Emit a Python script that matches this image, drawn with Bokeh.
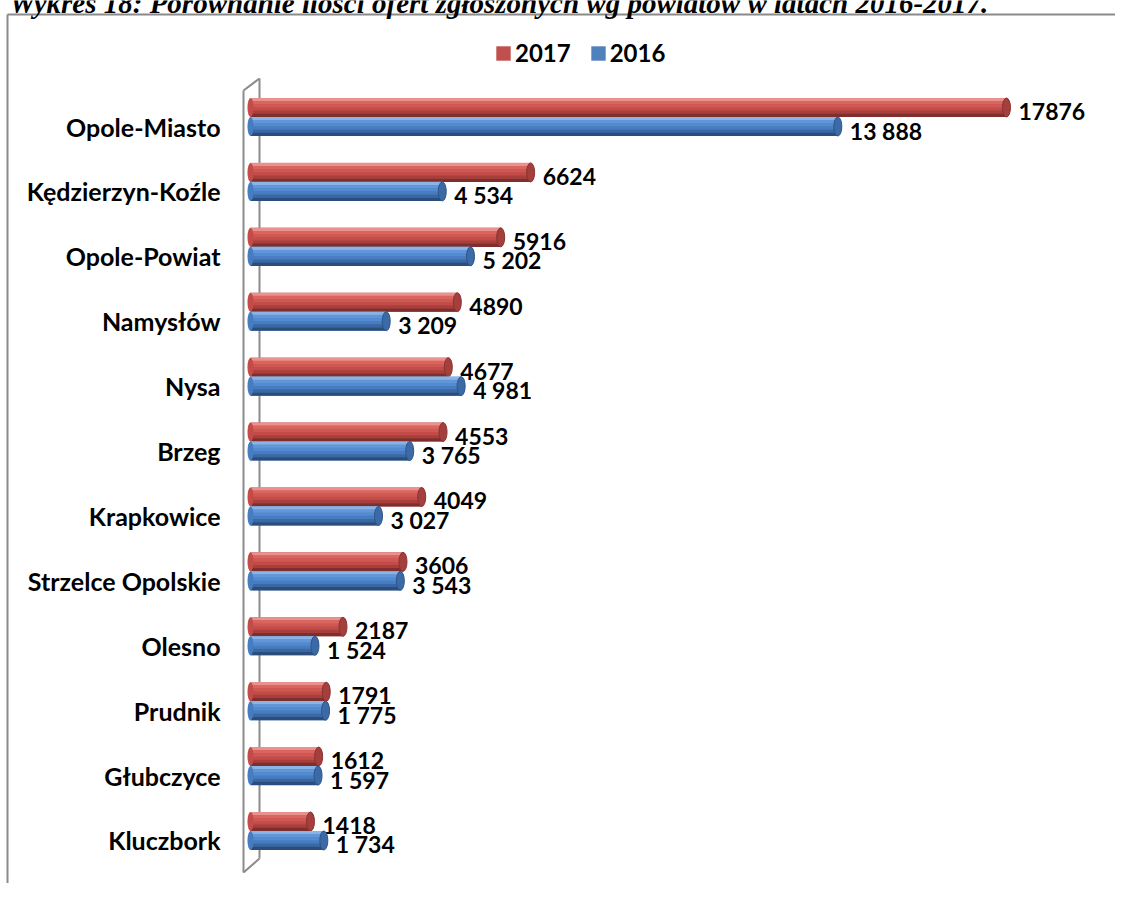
import numpy as np
from bokeh.plotting import figure
from bokeh.models import Range1d, Legend, LegendItem, Label, ColumnDataSource
from bokeh.core.properties import value
from bokeh.embed import file_html
from bokeh.resources import INLINE

# ---------------- data ----------------
districts = ["Opole-Miasto", "Kędzierzyn-Koźle", "Opole-Powiat", "Namysłów", "Nysa",
             "Brzeg", "Krapkowice", "Strzelce Opolskie", "Olesno", "Prudnik",
             "Głubczyce", "Kluczbork"]
offers_2017 = [17876, 6624, 5916, 4890, 4677, 4553, 4049, 3606, 2187, 1791, 1612, 1418]
offers_2016 = [13888, 4534, 5202, 3209, 4981, 3765, 3027, 3543, 1524, 1775, 1597, 1734]
series_names = ["2017", "2016"]
title_text = "Wykres 18: Porównanie ilości ofert zgłoszonych wg powiatów w latach 2016-2017."

labels_2017 = [str(v) for v in offers_2017]
labels_2016 = [f"{v:,}".replace(",", " ") for v in offers_2016]

# ---------------- geometry (pixels) ----------------
W, H = 1115, 883
X0 = 250.0          # canvas x of value 0
SX = 0.04229        # px per offer
Y0 = 126.0          # canvas y of first category
SY = 64.909         # px per category
BAR_PX = 19.0
RED_SHIFT_PX = -19.0

def dx(px):
    return (px - X0) / SX

def dy(px):
    return (px - Y0) / SY

FONT = value("Lato")

p = figure(width=W, height=H, output_backend="svg", toolbar_location=None,
           x_range=Range1d(dx(0), dx(W)), y_range=Range1d(dy(H), dy(0)),
           x_axis_type=None, y_axis_type=None, min_border=0,
           background_fill_color="white", border_fill_color="white")
p.outline_line_color = None
p.grid.visible = False

# chart area frame (top + left edges visible)
p.multi_line(xs=[[dx(7), dx(W)], [dx(7), dx(7)]],
             ys=[[dy(14), dy(14)], [dy(14), dy(H)]],
             line_color="#8a8a8a", line_width=2)

# 3D wall
p.multi_line(xs=[[dx(259), dx(259)], [dx(243), dx(259)], [dx(243), dx(243)], [dx(243), dx(259)]],
             ys=[[dy(78), dy(858)], [dy(90), dy(78)], [dy(90), dy(872)], [dy(872), dy(858)]],
             line_color="#8c8c8c", line_width=2)

idx = np.arange(len(districts), dtype=float)
bh = BAR_PX / SY

series = [
    (series_names[0], offers_2017, labels_2017, idx + RED_SHIFT_PX / SY, "#C0504D",
     ["#E8918D", "#DA645F", "#CF5853", "#C34C48", "#A83F3C", "#7E2E2C"], "#A33F3C", "#8A3331"),
    (series_names[1], offers_2016, labels_2016, idx, "#4F81BD",
     ["#8AB3E6", "#6197D9", "#528BD1", "#477CC0", "#3A68A5", "#2A4D7C"], "#3B6AA6", "#2E5588"),
]

legend_items = []
nstrip = 6
for name, vals, labs, yc, base, grad, capc, capl in series:
    src = ColumnDataSource(dict(y=yc, v=vals, lab=labs))
    body = p.hbar(y="y", left=0, right="v", height=bh, source=src,
                  fill_color=base, line_color=None)
    legend_items.append(LegendItem(label=name, renderers=[body]))
    for k, col in enumerate(grad):
        sy = yc - bh / 2 + (k + 0.5) * bh / nstrip
        p.hbar(y=sy, left=0, right=vals, height=bh / nstrip * 1.05,
               fill_color=col, line_color=None)
    # left rounded end
    p.ellipse(x=0, y="y", width=6, height=BAR_PX, width_units="screen",
              height_units="screen", source=src, fill_color=grad[3], line_color=None)
    # right end cap
    p.ellipse(x="v", y="y", width=8, height=BAR_PX, width_units="screen",
              height_units="screen", source=src, fill_color=capc, line_color=capl,
              line_width=1)
    # value labels
    p.text(x="v", y="y", text="lab", source=src, x_offset=12, y_offset=4,
           text_align="left", text_baseline="middle", text_font=FONT,
           text_font_style="bold", text_font_size="23px", text_color="black")

# category labels
p.text(x=0, y=idx, text=districts, x_offset=-30, y_offset=0,
       text_align="right", text_baseline="middle", text_font=FONT,
       text_font_style="bold", text_font_size="25px", text_color="black")

legend = Legend(items=legend_items, orientation="horizontal", location=(494, H - 67),
                glyph_width=18, glyph_height=18, label_standoff=3, spacing=18,
                padding=0, margin=0, border_line_color=None, background_fill_alpha=0,
                label_text_font="Lato", label_text_font_style="bold",
                label_text_font_size="24px", label_text_color="black")
p.add_layout(legend)

title = Label(x=9, y=H - 2, x_units="screen", y_units="screen", text=title_text,
              text_font="Liberation Serif", text_font_style="bold italic",
              text_font_size="29px", text_baseline="alphabetic", text_color="black")
p.add_layout(title)

open("out.html", "w").write(file_html(p, INLINE))
